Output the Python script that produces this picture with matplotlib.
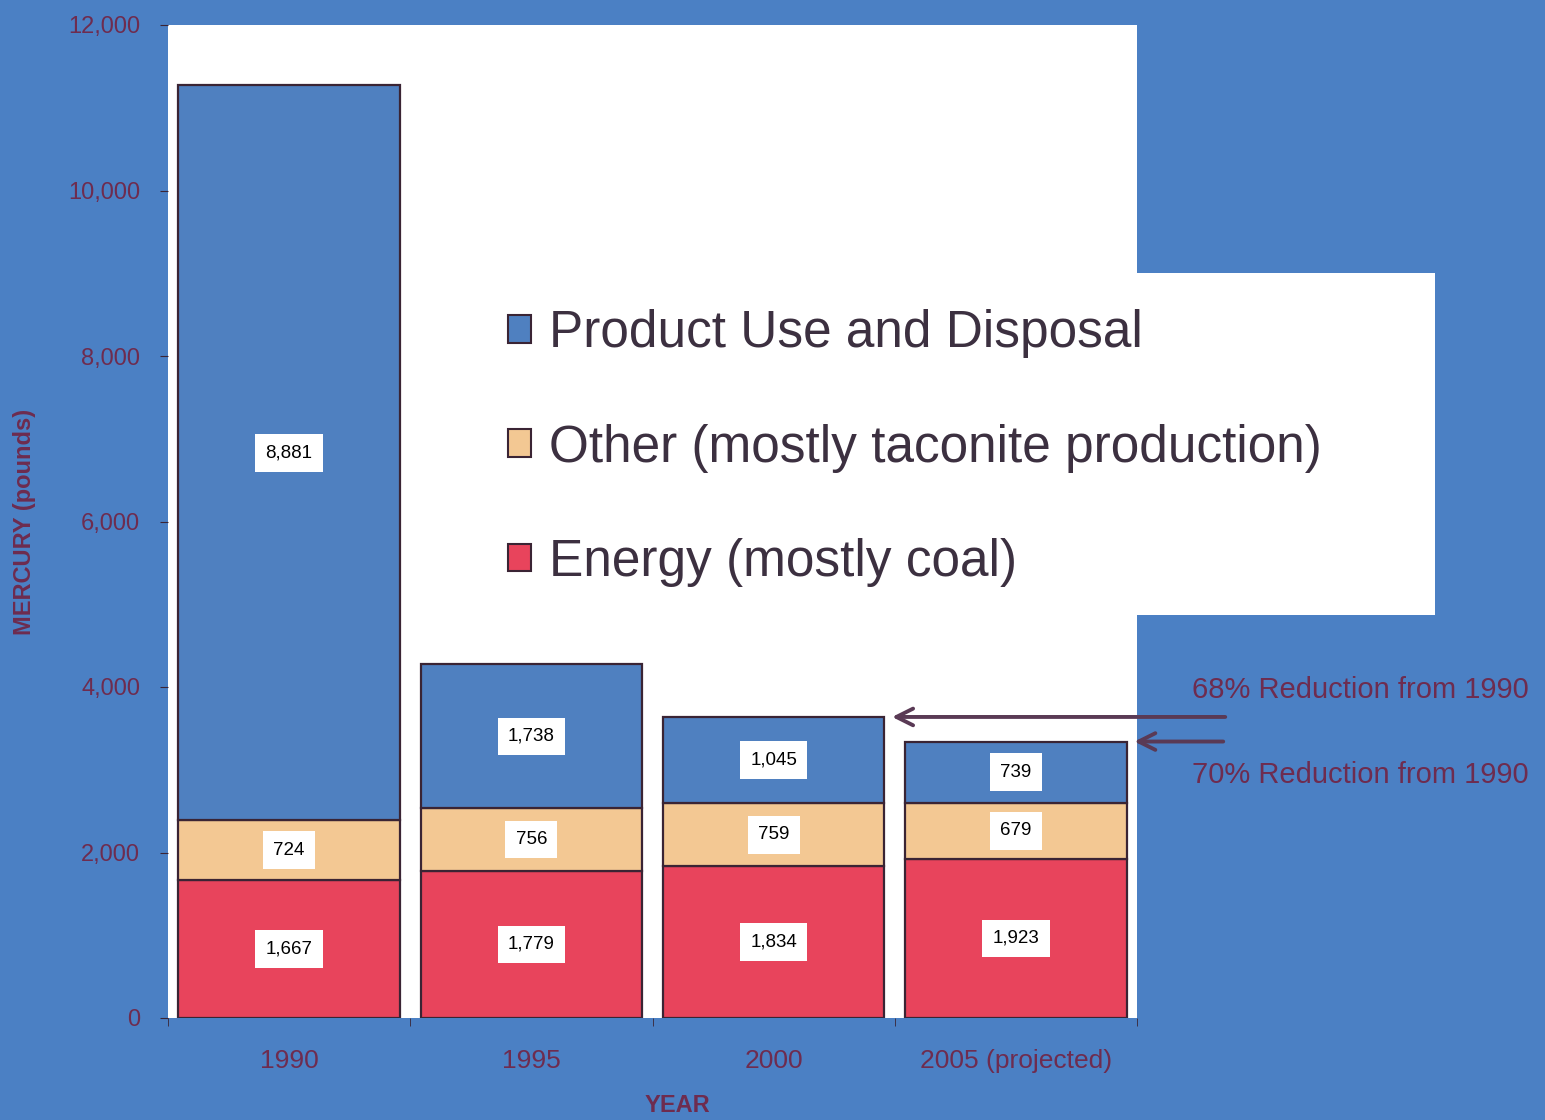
import matplotlib.pyplot as plt
from matplotlib.patches import Rectangle
import numpy as np

plt.rcParams['font.family'] = ['Liberation Sans', 'DejaVu Sans']

years = ['1990', '1995', '2000', '2005 (projected)']
energy = [1667, 1779, 1834, 1923]
other = [724, 756, 759, 679]
product = [8881, 1738, 1045, 739]
series_names = ['Product Use and Disposal',
                'Other (mostly taconite production)',
                'Energy (mostly coal)']
notes = ['68% Reduction from 1990', '70% Reduction from 1990']

bg_blue = '#4b80c4'
bar_blue = '#4f80c0'
tan = '#f3c893'
red = '#e8445c'
ink = '#6e2c4f'
edge = '#3a2434'

fig = plt.figure(figsize=(15.45, 11.2), dpi=100)
fig.patch.set_facecolor(bg_blue)
ax = fig.add_axes([168 / 1545, 1 - 1018 / 1120, 969 / 1545, 993 / 1120])
ax.set_facecolor('white')

x = np.arange(len(years))
w = 0.915
energy = np.array(energy)
other = np.array(other)
product = np.array(product)

ax.bar(x, energy, w, color=red, edgecolor=edge, linewidth=1.6)
ax.bar(x, other, w, bottom=energy, color=tan, edgecolor=edge, linewidth=1.6)
ax.bar(x, product, w, bottom=energy + other, color=bar_blue,
       edgecolor=edge, linewidth=1.6)

# value labels in white boxes at the middle of each segment
for vals, base in [(energy, 0), (other, energy), (product, energy + other)]:
    base = np.zeros(len(vals)) + base
    for xi, v, b in zip(x, vals, base):
        ax.text(xi, b + v / 2, f'{v:,}', ha='center', va='center',
                fontsize=13.5, color='black',
                bbox=dict(boxstyle='square,pad=0.55', fc='white', ec='none'))

ax.set_xlim(-0.5, len(years) - 0.5)
ax.set_ylim(0, 12000)
ax.set_yticks(range(0, 12001, 2000))
ax.set_yticklabels([f'{t:,}' for t in range(0, 12001, 2000)])
ax.set_xticks(x)
ax.set_xticklabels(years)
ax.set_xticks(np.arange(-0.5, len(years)), minor=True)
ax.tick_params(axis='x', which='major', length=0, pad=22, labelsize=19,
               labelcolor=ink)
ax.tick_params(axis='x', which='minor', length=6, color=edge)
ax.tick_params(axis='y', length=6, color=edge, pad=14, labelsize=17,
               labelcolor=ink)
for s in ax.spines.values():
    s.set_visible(False)

fig.text(677 / 1545, 1 - 1105 / 1120, 'YEAR', ha='center', va='center',
         fontsize=17, fontweight='bold', color=ink)
fig.text(25 / 1545, 1 - 522 / 1120, 'MERCURY (pounds)', rotation=90,
         ha='center', va='center', fontsize=17, fontweight='bold', color=ink)

# white panel behind the legend, reaching past the plot area
fig.patches.append(Rectangle((1130 / 1545, 1 - 615 / 1120), 305 / 1545,
                             342 / 1120, transform=fig.transFigure,
                             facecolor='white', edgecolor='none', zorder=0))

handles = [Rectangle((0, 0), 1, 1, fc=c, ec=edge, lw=1.5)
           for c in (bar_blue, tan, red)]
fig.legend(handles, series_names, loc='upper left',
           bbox_to_anchor=(462 / 1545, 1 - 263 / 1120), frameon=False,
           fontsize=37, labelcolor='#3c3040', handlelength=0.45,
           handleheight=0.45, handletextpad=0.35, labelspacing=1.27)

# reduction arrows and notes
totals = energy + other + product
to_data = ax.transData.inverted()
x_start = to_data.transform((1228, 0))[0]
x_start2 = to_data.transform((1226, 0))[0]
ax.annotate('', xy=(2 + w / 2 + 0.02, totals[2]), xytext=(x_start, totals[2]),
            arrowprops=dict(arrowstyle='->', color='#5a3a55', lw=2.8,
                            mutation_scale=30),
            annotation_clip=False)
ax.annotate('', xy=(3 + w / 2 + 0.02, totals[3]), xytext=(x_start2, totals[3]),
            arrowprops=dict(arrowstyle='->', color='#5a3a55', lw=2.8,
                            mutation_scale=30),
            annotation_clip=False)
fig.text(1360 / 1545, 1 - 690 / 1120, notes[0], ha='center', va='center',
         fontsize=21, color=ink)
fig.text(1360 / 1545, 1 - 775 / 1120, notes[1], ha='center', va='center',
         fontsize=21, color=ink)

fig.savefig('out.png', dpi=100, facecolor=fig.get_facecolor())
